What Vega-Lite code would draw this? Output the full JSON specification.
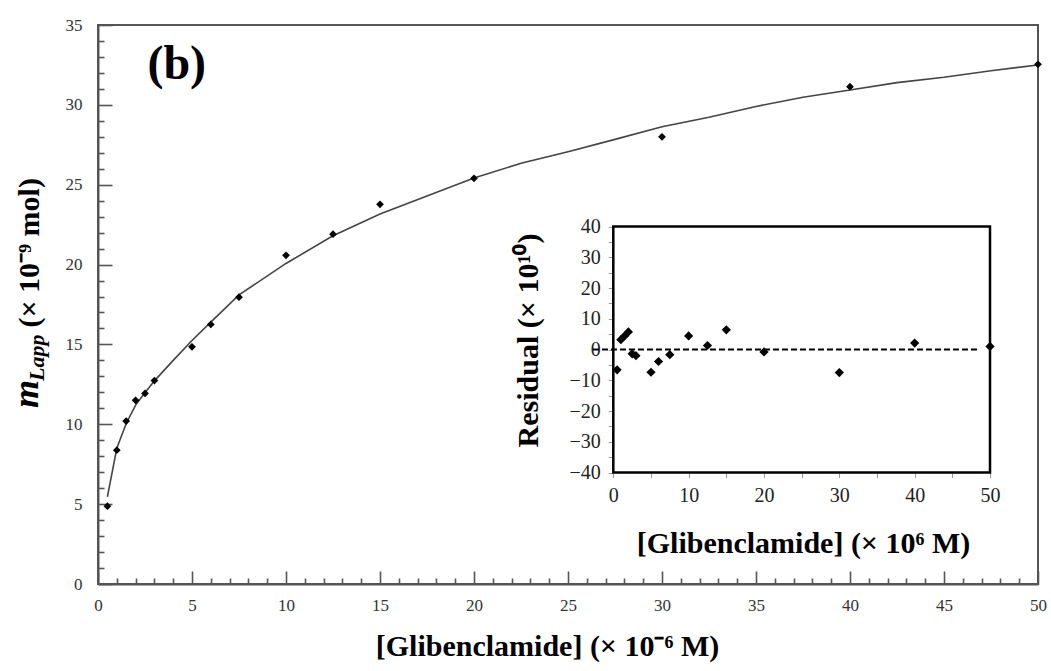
{
  "$schema": "https://vega.github.io/schema/vega-lite/v6.json",
  "width": 940,
  "height": 559,
  "autosize": {"type": "none"},
  "padding": {"left": 98, "top": 25, "right": 13, "bottom": 87},
  "background": "white",
  "config": {
    "view": {"stroke": "#555", "strokeWidth": 2},
    "font": "Liberation Serif",
    "axis": {"labelFont": "Liberation Serif", "labelFontSize": 17, "labelColor": "#333"}
  },
  "datasets": {
    "measured": [
      {"conc": 0.5, "mol": 4.87},
      {"conc": 1, "mol": 8.38},
      {"conc": 1.5, "mol": 10.2},
      {"conc": 2, "mol": 11.5},
      {"conc": 2.5, "mol": 11.93},
      {"conc": 3, "mol": 12.74},
      {"conc": 5, "mol": 14.85},
      {"conc": 6, "mol": 16.25},
      {"conc": 7.5, "mol": 17.96},
      {"conc": 10, "mol": 20.58},
      {"conc": 12.5, "mol": 21.9},
      {"conc": 15, "mol": 23.77},
      {"conc": 20, "mol": 25.4},
      {"conc": 30, "mol": 28.0},
      {"conc": 40, "mol": 31.14},
      {"conc": 50, "mol": 32.54}
    ],
    "fit": [
      {"conc": 0.5, "mol": 5.45},
      {"conc": 1, "mol": 8.5},
      {"conc": 1.5, "mol": 10.05},
      {"conc": 2, "mol": 11.2},
      {"conc": 2.5, "mol": 11.97},
      {"conc": 3, "mol": 12.72},
      {"conc": 4, "mol": 14.0},
      {"conc": 5, "mol": 15.25},
      {"conc": 6, "mol": 16.4},
      {"conc": 7.5, "mol": 18.1},
      {"conc": 10, "mol": 20.07},
      {"conc": 12.5, "mol": 21.8},
      {"conc": 15, "mol": 23.16},
      {"conc": 17.5, "mol": 24.29},
      {"conc": 20, "mol": 25.42},
      {"conc": 22.5, "mol": 26.34},
      {"conc": 25, "mol": 27.07},
      {"conc": 27.5, "mol": 27.84},
      {"conc": 30, "mol": 28.63},
      {"conc": 32.5, "mol": 29.22},
      {"conc": 35, "mol": 29.9},
      {"conc": 37.5, "mol": 30.48},
      {"conc": 40, "mol": 30.93},
      {"conc": 42.5, "mol": 31.39},
      {"conc": 45, "mol": 31.73},
      {"conc": 47.5, "mol": 32.14},
      {"conc": 50, "mol": 32.5}
    ],
    "residuals": [
      {"conc": 0.5, "res": -6.6},
      {"conc": 1, "res": 3.2},
      {"conc": 1.5, "res": 4.4},
      {"conc": 2, "res": 5.7},
      {"conc": 2.5, "res": -1.4},
      {"conc": 3, "res": -2.0},
      {"conc": 5, "res": -7.4},
      {"conc": 6, "res": -3.9},
      {"conc": 7.5, "res": -1.7},
      {"conc": 10, "res": 4.4},
      {"conc": 12.5, "res": 1.3},
      {"conc": 15, "res": 6.4},
      {"conc": 20, "res": -0.8},
      {"conc": 30, "res": -7.5},
      {"conc": 40, "res": 2.1},
      {"conc": 50, "res": 1.0}
    ]
  },
  "layer": [
    {
      "layer": [
        {
          "data": {"values": [{}]},
          "mark": {"type": "text", "text": "(b)", "font": "Liberation Serif", "fontSize": 48, "fontWeight": "bold", "color": "black", "align": "center", "baseline": "alphabetic"},
          "encoding": {
            "x": {"datum": 4.19, "type": "quantitative"},
            "y": {"datum": 31.6, "type": "quantitative"}
          }
        },
        {
          "data": {"values": [{}]},
          "mark": {"type": "text", "text": "m", "font": "Liberation Serif", "fontSize": 36, "fontWeight": "bold", "fontStyle": "italic", "color": "black", "angle": 270, "align": "left", "baseline": "alphabetic", "clip": false},
          "encoding": {
            "x": {"datum": -3.19, "type": "quantitative"},
            "y": {"datum": 11.02, "type": "quantitative"}
          }
        },
        {
          "data": {"values": [{}]},
          "mark": {"type": "text", "text": "Lapp", "font": "Liberation Serif", "fontSize": 22, "fontWeight": "bold", "fontStyle": "italic", "color": "black", "angle": 270, "align": "left", "baseline": "alphabetic", "clip": false},
          "encoding": {
            "x": {"datum": -2.87, "type": "quantitative"},
            "y": {"datum": 12.71, "type": "quantitative"}
          }
        },
        {
          "data": {"name": "fit"},
          "mark": {"type": "line", "color": "#444", "strokeWidth": 1.6, "clip": false},
          "encoding": {
            "x": {
              "field": "conc", "type": "quantitative",
              "scale": {"domain": [0, 50], "nice": false, "zero": false},
              "axis": {
                "orient": "bottom",
                "values": [0, 5, 10, 15, 20, 25, 30, 35, 40, 45, 50],
                "labelOverlap": false,
                "labelFlush": false,
                "tickSize": -13,
                "tickColor": "#555",
                "tickWidth": 1.6,
                "domainColor": "#555",
                "domainWidth": 2,
                "grid": false,
                "labelFont": "Liberation Serif",
                "labelFontSize": 17,
                "labelColor": "#333",
                "labelPadding": 26,
                "title": "[Glibenclamide]  (× 10⁻⁶ M)",
                "titleFont": "Liberation Serif",
                "titleFontSize": 30,
                "titleFontWeight": "bold",
                "titleColor": "black",
                "titleX": 449,
                "titleY": 71,
                "titleAlign": "center",
                "titleBaseline": "alphabetic"
              }
            },
            "y": {
              "field": "mol", "type": "quantitative",
              "scale": {"domain": [0, 35], "nice": false, "zero": false},
              "axis": {
                "orient": "left",
                "values": [0, 5, 10, 15, 20, 25, 30, 35],
                "labelOverlap": false,
                "labelFlush": false,
                "tickSize": -14,
                "tickColor": "#555",
                "tickWidth": 1.6,
                "domainColor": "#555",
                "domainWidth": 2,
                "grid": false,
                "labelFont": "Liberation Serif",
                "labelFontSize": 17,
                "labelColor": "#333",
                "labelPadding": 30,
                "title": "(× 10⁻⁹ mol)",
                "titleFont": "Liberation Serif",
                "titleFontSize": 30,
                "titleFontWeight": "bold",
                "titleColor": "black",
                "titleAngle": 270,
                "titleX": -60,
                "titleY": 302,
                "titleAlign": "left",
                "titleBaseline": "alphabetic"
              }
            }
          }
        }
      ]
    },
    {
      "data": {"name": "measured"},
      "mark": {"type": "point", "shape": "diamond", "filled": true, "color": "black", "opacity": 1, "size": 60, "clip": false},
      "encoding": {
        "x": {
          "field": "conc", "type": "quantitative",
          "scale": {"domain": [0, 50], "nice": false, "zero": false},
          "axis": {
            "orient": "bottom",
            "values": [1,2,3,4,6,7,8,9,11,12,13,14,16,17,18,19,21,22,23,24,26,27,28,29,31,32,33,34,36,37,38,39,41,42,43,44,46,47,48,49],
            "labels": false,
            "domain": false,
            "grid": false,
            "tickSize": -6,
            "tickColor": "#555",
            "tickWidth": 1.6,
            "title": null
          }
        },
        "y": {
          "field": "mol", "type": "quantitative",
          "scale": {"domain": [0, 35], "nice": false, "zero": false},
          "axis": {
            "orient": "left",
            "values": [1,2,3,4,6,7,8,9,11,12,13,14,16,17,18,19,21,22,23,24,26,27,28,29,31,32,33,34],
            "labels": false,
            "domain": false,
            "grid": false,
            "tickSize": -6,
            "tickColor": "#555",
            "tickWidth": 1.6,
            "title": null
          }
        }
      }
    },
    {
      "layer": [
        {
          "data": {"values": [{}]},
          "mark": {"type": "rect", "fill": "white", "stroke": "black", "strokeWidth": 2.5},
          "encoding": {
            "x": {"datum": 0, "type": "quantitative"},
            "x2": {"datum": 50},
            "y": {"datum": -40, "type": "quantitative"},
            "y2": {"datum": 40}
          }
        },
        {
          "data": {"values": [{}]},
          "mark": {"type": "rule", "color": "black", "strokeWidth": 2, "strokeDash": [6, 3]},
          "encoding": {
            "x": {"datum": -2.7, "type": "quantitative"},
            "x2": {"datum": 48.4},
            "y": {"datum": 0, "type": "quantitative"}
          }
        },
        {
          "data": {"name": "residuals"},
          "mark": {"type": "point", "shape": "diamond", "filled": true, "color": "black", "opacity": 1, "size": 85},
          "encoding": {
            "x": {
              "field": "conc", "type": "quantitative",
              "scale": {"domain": [-68.4, 56.37], "nice": false, "zero": false},
              "axis": {
                "orient": "bottom",
                "offset": -111.5,
                "values": [0, 10, 20, 30, 40, 50],
                "labelOverlap": false,
                "labelFlush": false,
                "domain": false,
                "grid": false,
                "tickSize": 5,
                "tickColor": "#999",
                "tickWidth": 1,
                "labelFont": "Liberation Serif",
                "labelFontSize": 20,
                "labelColor": "#222",
                "labelPadding": 8,
                "title": "[Glibenclamide]  (× 10⁶ M)",
                "titleFont": "Liberation Serif",
                "titleFontSize": 30,
                "titleFontWeight": "bold",
                "titleColor": "black",
                "titleX": 705,
                "titleY": 80,
                "titleAlign": "center",
                "titleBaseline": "alphabetic"
              }
            },
            "y": {
              "field": "res", "type": "quantitative",
              "scale": {"domain": [-76.26, 105.53], "nice": false, "zero": false},
              "axis": {
                "orient": "left",
                "offset": -515.3,
                "values": [-40, -30, -20, -10, 0, 10, 20, 30, 40],
                "labelOverlap": false,
                "labelFlush": false,
                "domain": false,
                "grid": false,
                "tickSize": 5,
                "tickColor": "#999",
                "tickWidth": 1,
                "labelFont": "Liberation Serif",
                "labelFontSize": 20,
                "labelColor": "#222",
                "labelPadding": 8,
                "title": "Residual (× 10¹⁰)",
                "titleFont": "Liberation Serif",
                "titleFontSize": 30,
                "titleFontWeight": "bold",
                "titleColor": "black",
                "titleAngle": 270,
                "titleX": -76,
                "titleY": 315,
                "titleAlign": "center",
                "titleBaseline": "alphabetic"
              }
            }
          }
        }
      ]
    },
    {
      "data": {"values": [{}]},
      "mark": {"type": "rule", "color": "#999", "strokeWidth": 1},
      "encoding": {
        "x": {
          "datum": 5, "type": "quantitative",
          "scale": {"domain": [-68.4, 56.37], "nice": false, "zero": false},
          "axis": {
            "orient": "bottom",
            "offset": -111.5,
            "values": [5, 15, 25, 35, 45],
            "labels": false,
            "domain": false,
            "grid": false,
            "tickSize": 5,
            "tickColor": "#999",
            "tickWidth": 1,
            "title": null
          }
        },
        "y": {
          "datum": 5, "type": "quantitative",
          "scale": {"domain": [-76.26, 105.53], "nice": false, "zero": false},
          "axis": {
            "orient": "left",
            "offset": -515.3,
            "values": [-35, -25, -15, -5, 5, 15, 25, 35],
            "labels": false,
            "domain": false,
            "grid": false,
            "tickSize": 5,
            "tickColor": "#999",
            "tickWidth": 1,
            "title": null
          }
        },
        "opacity": {"value": 0}
      }
    }
  ],
  "resolve": {
    "scale": {"x": "independent", "y": "independent"},
    "axis": {"x": "independent", "y": "independent"}
  }
}
